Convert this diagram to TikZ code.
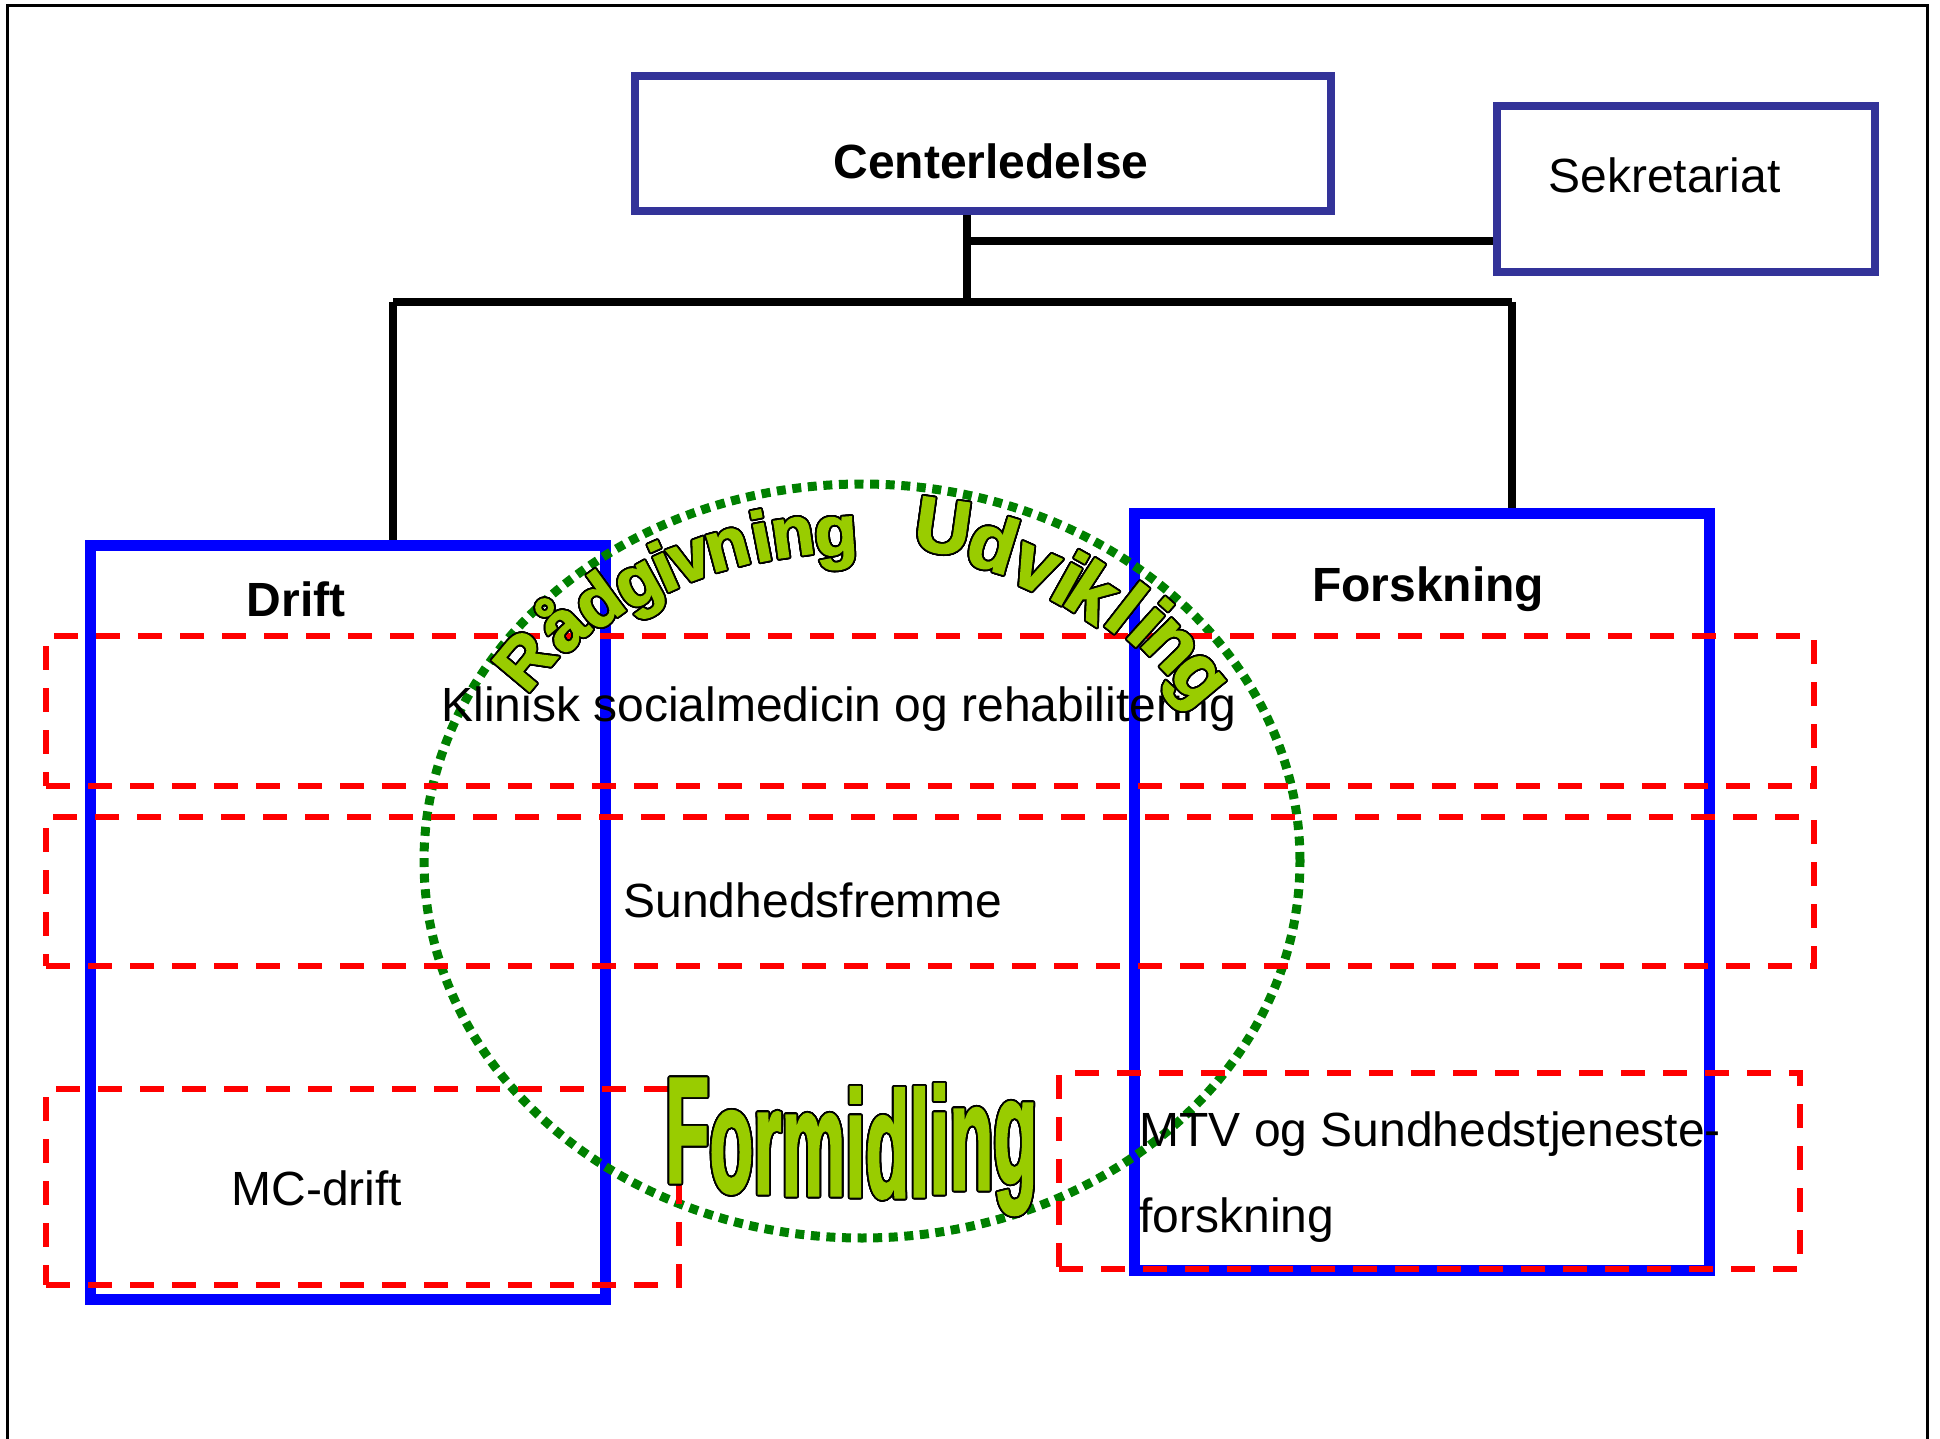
\documentclass[tikz,border=0pt]{standalone}
\usepackage{fontspec}
\setmainfont{Liberation Sans}
\newfontfamily\wafont[FakeBold=2]{Liberation Sans Bold}
\usepackage{contour}
\contourlength{0.9pt}
\contournumber{32}
\usetikzlibrary{shapes.geometric}
\definecolor{navyb}{HTML}{333399}
\definecolor{wagreen}{HTML}{99CC00}
\definecolor{dotgreen}{HTML}{008000}
\begin{document}
\begin{tikzpicture}[x=0.5pt,y=-0.5pt,
  hdbox/.style={draw=navyb,line width=4pt,rectangle,inner sep=0pt},
  bluebox/.style={draw=blue,line width=5.5pt,rectangle,inner sep=0pt},
  redbox/.style={draw=red,line width=2.9pt,dash pattern=on 12pt off 9pt,rectangle,inner sep=0pt},
  dotring/.style={draw=dotgreen,line width=4.5pt,dash pattern=on 4.5pt off 3.3pt,ellipse,inner sep=0pt},
  conn/.style={draw=black,line width=3.8pt},
  lbl/.style={font=\fontsize{24}{28}\selectfont,inner sep=0pt},
  blbl/.style={font=\bfseries\fontsize{24}{28}\selectfont,inner sep=0pt},
  waA/.style={font=\wafont\fontsize{35}{35}\selectfont,text=wagreen,inner sep=0pt,text height=25.2pt,text depth=7.3pt},
  waB/.style={font=\wafont\fontsize{38.5}{38.5}\selectfont,text=wagreen,inner sep=0pt,text height=27.7pt,text depth=8.1pt},
  waF/.style={font=\wafont\fontsize{75}{75}\selectfont,text=wagreen,inner sep=0pt,anchor=base west}]
\useasboundingbox (0,0) rectangle (1940,1439);
\fill[white] (0,0) rectangle (1940,1439);
% frame
\draw[line width=1.5pt] (7.5,1445) -- (7.5,5.7) -- (1927.5,5.7) -- (1927.5,1445);

% boxes
\node[hdbox,minimum width=348pt,minimum height=67.5pt] (cl) at (983,143.5) {};
\node[hdbox,minimum width=189pt,minimum height=83pt] (sek) at (1686,189) {};
\node[bluebox,minimum width=257.5pt,minimum height=377pt] (drift) at (347.5,922) {};
\node[bluebox,minimum width=287.5pt,minimum height=378.5pt] (forsk) at (1421.5,891.5) {};

% connectors
\coordinate (busC) at (967,302);
\coordinate (busL) at (393,302);
\coordinate (busR) at (1512,302);
\coordinate (sekJ) at (967,241);
\draw[conn] (cl.south -| busC) -- (busC);
\draw[conn] (busL) -- (busR);
\draw[conn] (busL) -- (busL |- drift.north);
\draw[conn] (busR) -- (busR |- forsk.north);
\draw[conn] (sekJ) -- (sekJ -| sek.west);

% dotted ring
\node[dotring,minimum width=438pt,minimum height=377pt] (ring) at (862,861) {};

% red dashed bands
\node[redbox,minimum width=884pt,minimum height=75pt] (band1) at (930,711) {};
\node[redbox,minimum width=884pt,minimum height=74.5pt] (band2) at (930,891.5) {};
\node[redbox,minimum width=316.5pt,minimum height=98pt] (band3) at (362.5,1187) {};
\node[redbox,minimum width=370.5pt,minimum height=98pt] (band4) at (1429.5,1171) {};

% texts
\node[blbl,anchor=base] (cltxt) at (991,179) {Centerledelse};
\node[lbl,anchor=base west] (sektxt) at (1548,193) {Sekretariat};
\node[blbl,anchor=base] (drifttxt) at (296,616) {Drift};
\node[blbl,anchor=base] (forsktxt) at (1428,601) {Forskning};
\node[lbl,anchor=base] (kltxt) at (839,721) {Klinisk socialmedicin og rehabilitering};
\node[lbl,anchor=base] (sftxt) at (813,917) {Sundhedsfremme};
\node[lbl,anchor=base] (mctxt) at (317,1205) {MC-drift};
\node[lbl,anchor=base west] (mtvtxt) at (1139,1146) {MTV og Sundhedstjeneste-};
\node[lbl,anchor=base west] (mtvtxtb) at (1139,1232) {forskning};

% WordArt: Rådgivning
\node[waA,rotate=50] (ra1) at (529,664) {\contour{black}{R}};
\node[waA,rotate=43] (ra2) at (566,630) {\contour{black}{å}};
\node[waA,rotate=36] (ra3) at (601,606) {\contour{black}{d}};
\node[waA,rotate=29] (ra4) at (639,586) {\contour{black}{g}};
\node[waA,rotate=24] (ra5) at (666,573) {\contour{black}{i}};
\node[waA,rotate=20] (ra6) at (691,562) {\contour{black}{v}};
\node[waA,rotate=15] (ra7) at (728,550) {\contour{black}{n}};
\node[waA,rotate=11] (ra8) at (762,543) {\contour{black}{i}};
\node[waA,rotate=8] (ra9) at (793,538) {\contour{black}{n}};
\node[waA,rotate=4] (ra10) at (836,537) {\contour{black}{g}};

% WordArt: Udvikling
\node[waB,rotate=-8] (ud1) at (942,533) {\contour{black}{U}};
\node[waB,rotate=-17] (ud2) at (991,550) {\contour{black}{d}};
\node[waB,rotate=-24] (ud3) at (1034,570) {\contour{black}{v}};
\node[waB,rotate=-29] (ud4) at (1066,585) {\contour{black}{i}};
\node[waB,rotate=-33] (ud5) at (1089,598) {\contour{black}{k}};
\node[waB,rotate=-38] (ud6) at (1122,614) {\contour{black}{l}};
\node[waB,rotate=-42] (ud7) at (1145,628) {\contour{black}{i}};
\node[waB,rotate=-46] (ud8) at (1169,647) {\contour{black}{n}};
\node[waB,rotate=-50] (ud9) at (1197,680) {\contour{black}{g}};

% WordArt: Formidling
\node[waF] (fo1) at (665,1182) {\contour{black}{\scalebox{0.48}[1]{F}}};
\node[waF] (fo2) at (709,1192) {\contour{black}{\scalebox{0.48}[1]{o}}};
\node[waF] (fo3) at (753,1193) {\contour{black}{\scalebox{0.48}[1]{r}}};
\node[waF] (fo4) at (781,1195) {\contour{black}{\scalebox{0.48}[1]{m}}};
\node[waF] (fo5) at (845,1196) {\contour{black}{\scalebox{0.48}[1]{i}}};
\node[waF] (fo6) at (865,1197) {\contour{black}{\scalebox{0.48}[1]{d}}};
\node[waF] (fo7) at (909,1196) {\contour{black}{\scalebox{0.48}[1]{l}}};
\node[waF] (fo8) at (929,1193) {\contour{black}{\scalebox{0.48}[1]{i}}};
\node[waF] (fo9) at (949,1189) {\contour{black}{\scalebox{0.48}[1]{n}}};
\node[waF] (fo10) at (993,1183) {\contour{black}{\scalebox{0.48}[1]{g}}};
\end{tikzpicture}
\end{document}
